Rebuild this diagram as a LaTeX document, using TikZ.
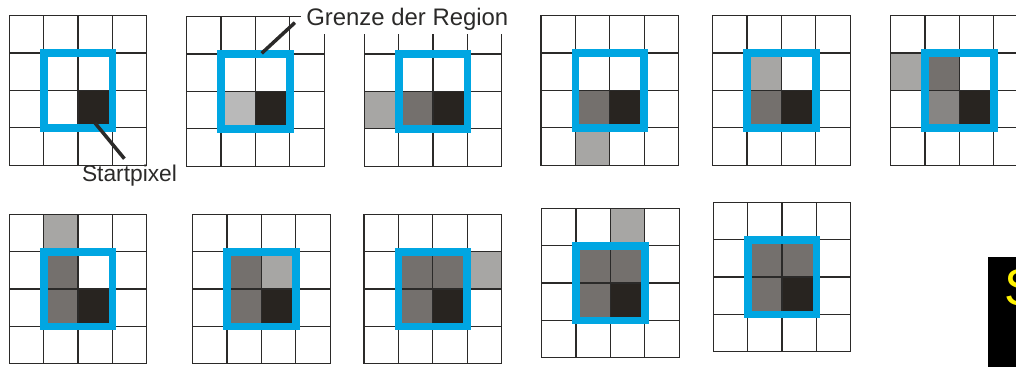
\documentclass[tikz,border=0pt]{standalone}
\usepackage{fontspec}
\setmainfont{Liberation Sans}
\definecolor{regBlau}{HTML}{00A6E2}
\definecolor{regSchwarz}{HTML}{282420}
\definecolor{regDunkel}{HTML}{74706D}
\definecolor{regMittel}{HTML}{878583}
\definecolor{regGrau}{HTML}{A7A6A4}
\definecolor{regHell}{HTML}{B9B9B9}
\definecolor{regLinie}{HTML}{2B2A29}
\tikzset{
  gitter/.style={draw=regLinie, line width=0.85pt, line cap=rect},
  rahmen/.style={draw=regBlau, line width=5.5pt},
  fuehrung/.style={draw=regLinie, line width=2.5pt},
  beschriftung/.style={font=\fontsize{#1}{#1}\selectfont, inner sep=0pt, text=regLinie},
}
% #1 Name, #2/#3 linke obere Ecke (px), #4 Liste c/r/Farbe
\newcommand{\raster}[4]{%
  \begin{scope}[shift={(#2,#3)}, xscale=34.375, yscale=37.375]
    \coordinate (#1) at (0,0);
    \foreach \c/\r/\f in {#4} \fill[\f] (\c,\r) rectangle ++(1,1);
    \foreach \i in {0,...,4} {
      \draw[gitter] (\i,0) -- (\i,4);
      \draw[gitter] (0,\i) -- (4,\i);
    }
    \draw[rahmen] (1,1) rectangle (3,3);
  \end{scope}}
\begin{document}
\begin{tikzpicture}[x=0.025cm, y=-0.025cm]
\useasboundingbox (0,0) rectangle (1016,367);
\clip (0,0) rectangle (1016,367);
% obere Reihe
\raster{g1}{9.3}{15.7}{2/2/regSchwarz}
\raster{g2}{186.7}{16.7}{1/2/regHell, 2/2/regSchwarz}
\raster{g3}{364.3}{16.7}{0/2/regGrau, 1/2/regDunkel, 2/2/regSchwarz}
\raster{g4}{541}{15.7}{1/2/regDunkel, 2/2/regSchwarz, 1/3/regGrau}
\raster{g5}{712.7}{15.7}{1/1/regGrau, 1/2/regDunkel, 2/2/regSchwarz}
\raster{g6}{890.7}{15.7}{0/1/regGrau, 1/1/regDunkel, 1/2/regMittel, 2/2/regSchwarz}
% untere Reihe
\raster{g7}{9.3}{214.3}{1/0/regGrau, 1/1/regDunkel, 1/2/regDunkel, 2/2/regSchwarz}
\raster{g8}{192.7}{214.3}{1/1/regDunkel, 2/1/regGrau, 1/2/regDunkel, 2/2/regSchwarz}
\raster{g9}{364}{214.3}{1/1/regDunkel, 2/1/regDunkel, 3/1/regGrau, 1/2/regDunkel, 2/2/regSchwarz}
\raster{g10}{541.7}{208.3}{2/0/regGrau, 1/1/regDunkel, 2/1/regDunkel, 1/2/regDunkel, 2/2/regSchwarz}
\raster{g11}{713.3}{202.3}{1/1/regDunkel, 2/1/regDunkel, 1/2/regDunkel, 2/2/regSchwarz}
% Beschriftungen
\node[beschriftung=17pt, fill=white, anchor=base west, inner xsep=3.6pt, inner ysep=4.5pt, text height=14pt, text depth=1.2pt] (grenze) at (301,26) {Grenze der Region};
\node[beschriftung=16.2pt, anchor=base] (startpixel) at (129.5,181.7) {Startpixel};
\coordinate (grenzpunkt) at (261.7,53.3);
\coordinate (startpunkt) at (95,123);
\draw[fuehrung, shorten >=5.9pt] (grenzpunkt) -- (grenze.west);
\draw[fuehrung, shorten >=5.7pt] (startpunkt) -- (startpixel.north);
% Kasten rechts unten
\node[fill=black, anchor=north west, minimum width=40pt, minimum height=90pt, inner sep=0pt] (kasten) at (988,256.7) {};
\node[font=\fontsize{36.8pt}{40pt}\selectfont, text=yellow, anchor=base west, inner sep=0pt] (kastentext) at (1004,305) {S};
\end{tikzpicture}
\end{document}
